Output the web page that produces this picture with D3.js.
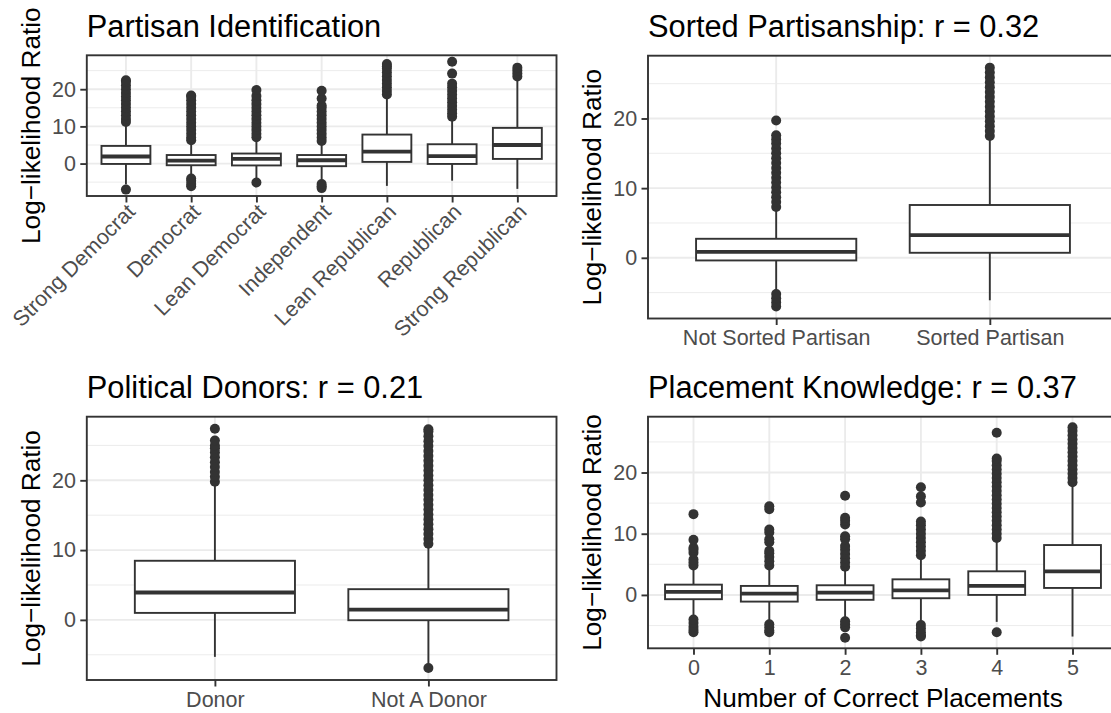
<!DOCTYPE html>
<html>
<head>
<meta charset="utf-8">
<script src="https://cdn.jsdelivr.net/npm/d3@7"></script>
<style>
  html, body { margin: 0; padding: 0; background: #ffffff; }
  svg { display: block; }
</style>
</head>
<body>
<div id="chart"></div>
<script>
// ---------------- DATA ----------------
// Panel 1: Partisan Identification
const pidCategories = ["Strong Democrat", "Democrat", "Lean Democrat", "Independent", "Lean Republican", "Republican", "Strong Republican"];
const pidQ1 = [-0.1, -0.45, -0.5, -0.7, 0.45, -0.1, 1.25];
const pidMedian = [1.9, 0.8, 1.25, 0.9, 3.2, 2.0, 5.0];
const pidQ3 = [4.75, 2.3, 2.7, 2.3, 7.8, 5.2, 9.6];
const pidWhiskerLow = [-5.6, -3.4, -4.3, -4.6, -6.0, -4.6, -6.8];
const pidWhiskerHigh = [10.8, 5.9, 6.8, 5.8, 18.2, 12.4, 23.0];
const pidOutliers = [
  [-7.0, 11.2, 12, 13, 14, 15, 16, 17, 18, 19, 20, 21, 22, 22.4],
  [-6.1, -5.5, -4.6, -4.0, 6.3, 7, 8, 9, 10, 11, 12, 13, 14, 15, 16, 17, 18, 18.3],
  [-5.1, 7.1, 8, 9, 10, 11, 12, 13, 14, 15, 16, 17, 18.2, 19.8],
  [-6.6, -6.1, -5.5, 6.1, 7, 8, 9, 10, 11, 12, 13, 14, 15, 15.6, 17.5, 19.6],
  [18.6, 19.5, 20.5, 21.5, 22.5, 23.5, 24.5, 25.5, 26.2, 26.8],
  [12.6, 13.5, 14.5, 15.5, 16.5, 17.5, 18.5, 19.5, 20.5, 21.5, 24.2, 27.4],
  [23.4, 24.2, 25, 25.8]
];

// Panel 2: Sorted Partisanship
const sortCategories = ["Not Sorted Partisan", "Sorted Partisan"];
const sortQ1 = [-0.38, 0.72];
const sortMedian = [0.86, 3.26];
const sortQ3 = [2.73, 7.58];
const sortWhiskerLow = [-4.7, -6.1];
const sortWhiskerHigh = [7.0, 17.2];
const sortOutliers = [
  [-7.0, -6.4, -5.8, -5.2, 7.3, 8.0, 8.7, 9.4, 10.1, 10.8, 11.5, 12.2, 12.9, 13.6, 14.3, 15.0, 15.7, 16.4, 17.0, 17.6, 19.7],
  [17.5, 18.2, 18.9, 19.6, 20.3, 21.0, 21.7, 22.4, 23.1, 23.8, 24.5, 25.2, 25.9, 26.6, 27.3]
];

// Panel 3: Political Donors
const donorCategories = ["Donor", "Not A Donor"];
const donorQ1 = [1.0, -0.05];
const donorMedian = [3.92, 1.48];
const donorQ3 = [8.47, 4.4];
const donorWhiskerLow = [-5.3, -6.3];
const donorWhiskerHigh = [19.5, 10.7];
const donorOutliers = [
  [19.8, 20.5, 21.2, 21.9, 22.6, 23.3, 24.0, 24.6, 25.0, 25.7, 27.4],
  [-6.9, 10.9, 11.6, 12.3, 13.0, 13.7, 14.4, 15.1, 15.8, 16.5, 17.2, 17.9, 18.6, 19.3, 20.0, 20.7, 21.4, 22.1, 22.8, 23.5, 24.2, 24.9, 25.6, 26.3, 27.0, 27.3]
];

// Panel 4: Placement Knowledge
const placeCategories = ["0", "1", "2", "3", "4", "5"];
const placeQ1 = [-0.7, -1.09, -0.8, -0.54, 0.0, 1.14];
const placeMedian = [0.49, 0.22, 0.38, 0.76, 1.47, 3.86];
const placeQ3 = [1.68, 1.47, 1.58, 2.55, 3.86, 8.15];
const placeWhiskerLow = [-3.6, -4.4, -4.2, -4.8, -4.4, -6.8];
const placeWhiskerHigh = [4.6, 4.8, 4.4, 6.4, 9.2, 18.2];
const placeOutliers = [
  [-6.1, -5.7, -5.2, -4.6, -4.0, 4.8, 5.3, 5.8, 6.9, 7.4, 7.7, 9.0, 13.2],
  [-6.1, -5.8, -5.3, -4.8, 4.8, 5.5, 6.2, 6.8, 7.2, 8.6, 9.1, 10.2, 10.7, 14.0, 14.5],
  [-7.0, -5.3, -4.8, -4.3, 4.6, 5.3, 6.0, 6.7, 7.4, 8.0, 9.1, 9.6, 11.5, 12.1, 12.6, 16.2],
  [-6.8, -6.6, -6.1, -5.5, -4.9, 6.5, 7.2, 7.9, 8.6, 9.3, 10.0, 10.7, 11.4, 12.0, 15.1, 16.1, 17.6],
  [-6.1, 9.3, 10.0, 10.7, 11.4, 12.1, 12.8, 13.5, 14.2, 14.9, 15.6, 16.3, 17.0, 17.7, 18.4, 19.1, 19.8, 20.5, 21.2, 21.9, 22.3, 26.5],
  [18.4, 19.1, 19.8, 20.5, 21.2, 21.9, 22.6, 23.3, 24.0, 24.7, 25.4, 26.1, 26.8, 27.4]
];

const yTickValues = [0, 10, 20];
const yMinorValues = [-5, 5, 15, 25];
const yAxisTitle = "Log\u2212likelihood Ratio";

// ---------------- DRAWING ----------------
const W = 1111, H = 713;
const FONT = "'Liberation Sans', Arial, Helvetica, sans-serif";
const svg = d3.select("#chart").append("svg")
  .attr("width", W).attr("height", H)
  .attr("viewBox", `0 0 ${W} ${H}`)
  .style("font-family", FONT);
svg.append("rect").attr("width", W).attr("height", H).attr("fill", "#ffffff");

const DARK = "#333333";
const GRID = "#EBEBEB";
const LW = 1.9;

function drawPanel(cfg) {
  const { left, right, top, bottom, cats, q1, med, q3, lo, hi, out, title, titleY, yTitleX, xTitle, rotateLabels } = cfg;
  const allVals = [].concat(lo, hi, q1, q3, ...out);
  const mn = d3.min(allVals), mx = d3.max(allVals);
  const pad = (mx - mn) * 0.05;
  const y = d3.scaleLinear().domain([mn - pad, mx + pad]).range([bottom, top]);
  const x = d3.scalePoint().domain(cats).range([left, right]).padding(0.6);
  const bw = x.step() * 0.75;
  const g = svg.append("g");

  g.append("rect").attr("x", left).attr("y", top).attr("width", right - left).attr("height", bottom - top).attr("fill", "#ffffff");

  g.selectAll(".minor").data(yMinorValues.filter(v => v > y.domain()[0] && v < y.domain()[1])).join("line")
    .attr("x1", left).attr("x2", right).attr("y1", d => y(d)).attr("y2", d => y(d))
    .attr("stroke", GRID).attr("stroke-width", 0.95);
  g.selectAll(".majorY").data(yTickValues).join("line")
    .attr("x1", left).attr("x2", right).attr("y1", d => y(d)).attr("y2", d => y(d))
    .attr("stroke", GRID).attr("stroke-width", LW);
  g.selectAll(".majorX").data(cats).join("line")
    .attr("x1", d => x(d)).attr("x2", d => x(d)).attr("y1", top).attr("y2", bottom)
    .attr("stroke", GRID).attr("stroke-width", LW);

  const rows = cats.map((c, i) => ({ c, q1: q1[i], med: med[i], q3: q3[i], lo: lo[i], hi: hi[i], out: out[i] }));

  const bg = g.append("g");
  bg.selectAll(".wh").data(rows).join("line")
    .attr("x1", d => x(d.c)).attr("x2", d => x(d.c))
    .attr("y1", d => y(d.q3)).attr("y2", d => y(d.hi))
    .attr("stroke", DARK).attr("stroke-width", LW);
  bg.selectAll(".wl").data(rows).join("line")
    .attr("x1", d => x(d.c)).attr("x2", d => x(d.c))
    .attr("y1", d => y(d.q1)).attr("y2", d => y(d.lo))
    .attr("stroke", DARK).attr("stroke-width", LW);

  rows.forEach(r => {
    bg.append("g").selectAll("circle").data(r.out).join("circle")
      .attr("cx", x(r.c)).attr("cy", d => y(d)).attr("r", 5)
      .attr("fill", DARK);
  });

  bg.selectAll(".box").data(rows).join("rect")
    .attr("x", d => x(d.c) - bw / 2).attr("width", bw)
    .attr("y", d => y(d.q3)).attr("height", d => y(d.q1) - y(d.q3))
    .attr("fill", "#ffffff").attr("stroke", DARK).attr("stroke-width", LW);
  bg.selectAll(".med").data(rows).join("line")
    .attr("x1", d => x(d.c) - bw / 2).attr("x2", d => x(d.c) + bw / 2)
    .attr("y1", d => y(d.med)).attr("y2", d => y(d.med))
    .attr("stroke", DARK).attr("stroke-width", LW * 2);

  g.append("rect").attr("x", left).attr("y", top).attr("width", right - left).attr("height", bottom - top)
    .attr("fill", "none").attr("stroke", DARK).attr("stroke-width", LW);

  const ya = g.append("g").attr("transform", `translate(${left},0)`)
    .call(d3.axisLeft(y).tickValues(yTickValues).tickSize(6.5).tickPadding(4.3).tickSizeOuter(0));
  ya.select(".domain").remove();
  ya.selectAll(".tick line").attr("stroke", DARK).attr("stroke-width", LW);
  ya.selectAll(".tick text").attr("fill", "#4D4D4D").style("font-size", "21.5px").style("font-family", FONT);

  const xa = g.append("g").attr("transform", `translate(0,${bottom})`)
    .call(d3.axisBottom(x).tickSize(6.5).tickPadding(5).tickSizeOuter(0));
  xa.select(".domain").remove();
  xa.selectAll(".tick line").attr("stroke", DARK).attr("stroke-width", LW);
  xa.selectAll(".tick text").attr("fill", "#4D4D4D").style("font-size", "21.5px").style("font-family", FONT);
  if (rotateLabels) {
    xa.selectAll(".tick text")
      .attr("x", 0).attr("y", 0).attr("dy", 0)
      .attr("text-anchor", "end")
      .attr("transform", "translate(10,17) rotate(-45)");
  }

  svg.append("text").attr("x", left).attr("y", titleY).text(title)
    .attr("fill", "#000000").style("font-size", "30.8px");
  svg.append("text")
    .attr("transform", `translate(${yTitleX},${(top + bottom) / 2}) rotate(-90)`)
    .attr("text-anchor", "middle").text(yAxisTitle)
    .attr("fill", "#000000").style("font-size", "26.2px");
  if (xTitle) {
    svg.append("text").attr("x", (left + right) / 2).attr("y", 707).attr("text-anchor", "middle")
      .text(xTitle).attr("fill", "#000000").style("font-size", "26.2px");
  }
}

drawPanel({
  left: 86.8, right: 556.5, top: 55.3, bottom: 196,
  cats: pidCategories, q1: pidQ1, med: pidMedian, q3: pidQ3, lo: pidWhiskerLow, hi: pidWhiskerHigh, out: pidOutliers,
  title: "Partisan Identification", titleY: 37, yTitleX: 40, rotateLabels: true
});
drawPanel({
  left: 648, right: 1118, top: 55.7, bottom: 318.5,
  cats: sortCategories, q1: sortQ1, med: sortMedian, q3: sortQ3, lo: sortWhiskerLow, hi: sortWhiskerHigh, out: sortOutliers,
  title: "Sorted Partisanship: r = 0.32", titleY: 37, yTitleX: 601
});
drawPanel({
  left: 86.8, right: 556.5, top: 416.7, bottom: 680,
  cats: donorCategories, q1: donorQ1, med: donorMedian, q3: donorQ3, lo: donorWhiskerLow, hi: donorWhiskerHigh, out: donorOutliers,
  title: "Political Donors: r = 0.21", titleY: 398, yTitleX: 40
});
drawPanel({
  left: 648, right: 1118, top: 416.7, bottom: 648.3,
  cats: placeCategories, q1: placeQ1, med: placeMedian, q3: placeQ3, lo: placeWhiskerLow, hi: placeWhiskerHigh, out: placeOutliers,
  title: "Placement Knowledge: r = 0.37", titleY: 398, yTitleX: 601, xTitle: "Number of Correct Placements"
});
</script>
</body>
</html>
